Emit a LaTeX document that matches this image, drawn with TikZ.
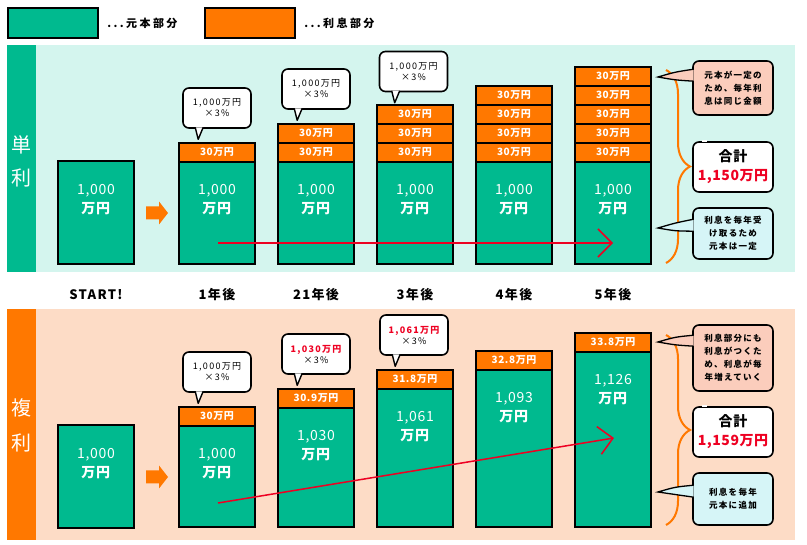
\documentclass[tikz,border=0pt]{standalone}
\usepackage{fontspec}
\setmainfont{Noto Sans CJK JP}
\usetikzlibrary{positioning,calc,arrows.meta,decorations.pathreplacing}
\definecolor{gankin}{HTML}{00BA8F}
\definecolor{risoku}{HTML}{FF7800}
\definecolor{tanbg}{HTML}{D4F5EE}
\definecolor{fukubg}{HTML}{FDDCC6}
\definecolor{memopink}{HTML}{FBCDBC}
\definecolor{memoblue}{HTML}{D6F5F7}
\definecolor{aka}{HTML}{EE0022}
\newcommand\aki[1]{\addfontfeature{LetterSpace=#1}}
\tikzset{
  waku/.style={draw=black,line width=1.6pt,inner sep=0pt},
  gan/.style={waku,fill=gankin,minimum width=76pt,anchor=south},
  ri/.style={waku,fill=risoku,minimum width=76pt,minimum height=19pt,text=white,font=\bfseries\fontsize{10}{10}\selectfont\aki{6}},
  kin/.style={text=white,align=center,font=\fontsize{14}{19}\selectfont\aki{5}},
  fuki/.style={waku,fill=white,rounded corners=6pt,minimum width=68pt,minimum height=40pt,align=center,font=\fontsize{9}{11}\selectfont\aki{14}},
  fukitail/.style={draw=black,line width=1.4pt,fill=white,line join=round},
  memo/.style={waku,rounded corners=6pt,minimum width=80pt,align=center,font=\bfseries\fontsize{8.5}{13}\selectfont\aki{15}},
  memotail/.style={draw=black,line width=1.3pt},
  goukei/.style={memo,fill=white,minimum height=50pt,font=\bfseries\fontsize{14}{19}\selectfont\aki{4}},
  nen/.style={font=\bfseries\fontsize{13}{13}\selectfont\aki{10}},
  obi/.style={text=white,font=\fontsize{20}{20}\selectfont},
  hanrei/.style={font=\bfseries\fontsize{11}{11}\selectfont\aki{22}},
  kakko/.style={draw=risoku,line width=2pt,decorate,decoration={brace,amplitude=24pt}},
  yajirushi/.style={draw=aka,line width=1.5pt,-{Straight Barb[length=14pt,width=28pt]}}
}
\begin{document}
\begin{tikzpicture}[x=1pt,y=-1pt]
\fill[white] (0,0) rectangle (807,545);
\useasboundingbox (0,0) rectangle (807,545);
% legend
\node[waku,fill=gankin,minimum width=90pt,minimum height=30pt] (hanreiG) at (53,23) {};
\node[hanrei,right=5pt of hanreiG] (hanreiGt) {...元本部分};
\node[waku,fill=risoku,minimum width=90pt,minimum height=30pt] (hanreiR) at (250,23) {};
\node[hanrei,right=5pt of hanreiR] (hanreiRt) {...利息部分};
% panels
\fill[tanbg] (7,45) rectangle (795,272);
\fill[gankin] (7,45) rectangle (36,272);
\node[obi] (tan1) at (21.5,145) {単};
\node[obi] (tan2) at (21.5,178) {利};
\fill[fukubg] (7,309) rectangle (795,540);
\fill[risoku] (7,309) rectangle (36,540);
\node[obi] (fuku1) at (21.5,408) {複};
\node[obi] (fuku2) at (21.5,443) {利};
% simple interest
\node[gan,minimum height=103pt] (ts) at (96,265) {};
\node[kin] (tsk) at ([yshift=-39.5pt]ts.north) {1,000\\\textbf{万円}};
\fill[risoku] (146,213) ++(0,-6.5) -- ++(13,0) -- ++(0,-5) -- ++(9,11.5) -- ++(-9,11.5) -- ++(0,-5) -- ++(-13,0) -- cycle;
\foreach \i/\x in {1/217,2/316,3/415,4/514,5/613} {
  \node[gan,minimum height=103pt] (t\i) at (\x,265) {};
  \node[kin] (tk\i) at ([yshift=-39.5pt]t\i.north) {1,000\\\textbf{万円}};
  \foreach \k in {1,...,\i}
    \node[ri] (tr\i-\k) at (\x,{162-19*(\k-0.5)}) {30万円};
}
\node[fuki] (tf1) at (217,108) {1,000万円\\×3\%};
\node[fuki] (tf2) at (316,89) {1,000万円\\×3\%};
\node[fuki] (tf3) at (413.5,71.5) {1,000万円\\×3\%};
\foreach \i in {1,2,3}
  \draw[fukitail] ([xshift=13pt,yshift=1.5pt]tf\i.south west) -- ++(3,12) -- ++(5,-12);
\coordinate (tya) at (218,243);
\coordinate (tyb) at (613,243);
\draw[yajirushi] (tya) -- (tyb);
% compound interest
\node[gan,minimum height=103pt] (fs) at (96,529) {};
\node[kin] (fsk) at ([yshift=-39.5pt]fs.north) {1,000\\\textbf{万円}};
\fill[risoku] (146,477) ++(0,-6.5) -- ++(13,0) -- ++(0,-5) -- ++(9,11.5) -- ++(-9,11.5) -- ++(0,-5) -- ++(-13,0) -- cycle;
\foreach \i/\x/\ue/\gk/\rk in {1/217/426/{1,000}/30,2/316/408/{1,030}/30.9,3/415/389/{1,061}/31.8,4/514/370/{1,093}/32.8,5/613/352/{1,126}/33.8} {
  \node[gan,minimum height=528pt-\ue pt] (f\i) at (\x,528) {};
  \node[kin] (fk\i) at ([yshift=-39.5pt]f\i.north) {\gk\\\textbf{万円}};
  \node[ri] (fr\i) at (\x,{\ue-9.5}) {\rk 万円};
}
\node[fuki] (ff1) at (217,372) {1,000万円\\×3\%};
\node[fuki] (ff2) at (316,354) {\textcolor{aka}{\bfseries 1,030万円}\\×3\%};
\node[fuki] (ff3) at (414,335) {\textcolor{aka}{\bfseries 1,061万円}\\×3\%};
\foreach \i in {1,2,3}
  \draw[fukitail] ([xshift=13pt,yshift=1.5pt]ff\i.south west) -- ++(3,12) -- ++(5,-12);
\coordinate (fya) at (218,503);
\coordinate (fyb) at (614,438);
\draw[yajirushi] (fya) -- (fyb);
% years
\node[nen] (n0) at (96,295) {START!};
\node[nen] (n1) at (217,295) {1年後};
\node[nen] (n2) at (316,295) {21年後};
\node[nen] (n3) at (415,295) {3年後};
\node[nen] (n4) at (514,295) {4年後};
\node[nen] (n5) at (613,295) {5年後};
% braces
\draw[kakko] (666,70) -- (666,263);
\draw[kakko] (666,335) -- (666,525);
% notes
\node[memo,fill=memopink,minimum height=54pt] (tm1) at (733,88) {元本が一定の\\ため、毎年利\\息は同じ金額};
\node[goukei] (tm2) at (733,167) {合計\\\textcolor{aka}{1,150万円}};
\node[memo,fill=memoblue,minimum height=51pt] (tm3) at (733,233.5) {利息を毎年受\\け取るため\\元本は一定};
\node[memo,fill=memopink,minimum height=66pt] (fm1) at (733,358) {利息部分にも\\利息がつくた\\め、利息が毎\\年増えていく};
\node[goukei] (fm2) at (733,432) {合計\\\textcolor{aka}{1,159万円}};
\node[memo,fill=memoblue,minimum height=52pt] (fm3) at (733,499) {利息を毎年\\元本に追加};
\draw[white,line width=2.5pt] ([xshift=10pt]tm2.north west) -- ++(5,0);
\draw[white,line width=2.5pt] ([xshift=10pt]fm2.north west) -- ++(5,0);
\coordinate (tmA) at (658,77);
\coordinate (tmC) at (658,228);
\coordinate (fmA) at (658,342);
\coordinate (fmC) at (658,492);
\draw[memotail,fill=memopink] ([xshift=1.5pt,yshift=-9pt]tm1.north west) .. controls (675,72) .. (tmA) .. controls (675,80) .. ([xshift=1.5pt,yshift=-21pt]tm1.north west);
\draw[memotail,fill=memoblue] ([xshift=1.5pt,yshift=-12pt]tm3.north west) .. controls (675,223) .. (tmC) .. controls (675,231) .. ([xshift=1.5pt,yshift=-24pt]tm3.north west);
\draw[memotail,fill=memopink] ([xshift=1.5pt,yshift=-11pt]fm1.north west) .. controls (675,337) .. (fmA) .. controls (675,345) .. ([xshift=1.5pt,yshift=-22pt]fm1.north west);
\draw[memotail,fill=memoblue] ([xshift=1.5pt,yshift=-13pt]fm3.north west) .. controls (675,487) .. (fmC) .. controls (675,495) .. ([xshift=1.5pt,yshift=-25pt]fm3.north west);
\end{tikzpicture}
\end{document}
